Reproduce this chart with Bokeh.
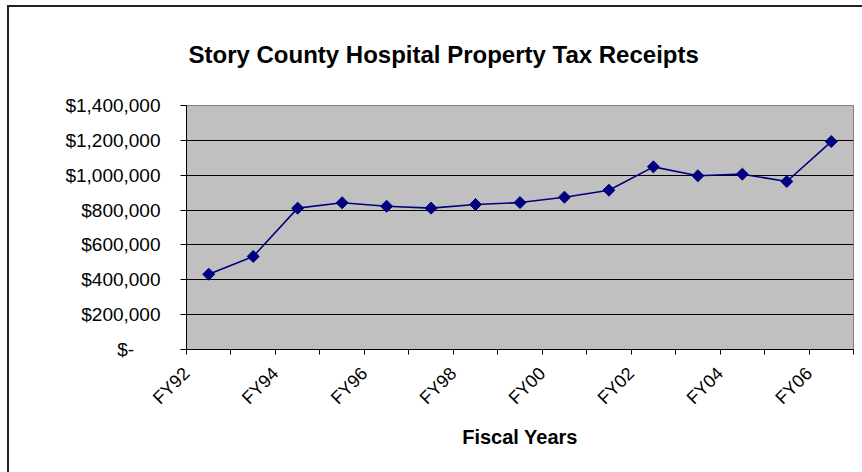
import math
from bokeh.plotting import figure
from bokeh.models import FixedTicker, Range1d
from bokeh.embed import file_html
from bokeh.resources import INLINE

years = ["FY92", "FY93", "FY94", "FY95", "FY96", "FY97", "FY98", "FY99",
         "FY00", "FY01", "FY02", "FY03", "FY04", "FY05", "FY06"]
receipts = [432000, 534000, 811000, 842000, 822000, 811000, 832000, 843000,
            874000, 914000, 1048000, 997000, 1006000, 964000, 1193000]
y_ticks = [0, 200000, 400000, 600000, 800000, 1000000, 1200000, 1400000]
y_tick_labels = ["$-\u00a0\u00a0\u00a0\u00a0\u00a0", "$200,000", "$400,000", "$600,000",
                 "$800,000", "$1,000,000", "$1,200,000", "$1,400,000"]
title_text = "Story County Hospital Property Tax Receipts"
x_title = "Fiscal Years"

FONT = "Liberation Sans"

x_pos = [i + 0.5 for i in range(len(years))]

p = figure(frame_width=667, frame_height=244, output_backend="svg", toolbar_location=None,
           x_range=Range1d(0, len(years)), y_range=Range1d(0, 1400000),
           min_border_left=186, min_border_top=103, min_border_right=9, min_border_bottom=125)
p.styles = {
    "background": "linear-gradient(#222, #222) 7px 5px / 2px calc(100% - 5px) no-repeat, "
                  "linear-gradient(#222, #222) 7px 5px / calc(100% - 7px) 2px no-repeat, #ffffff"
}

p.background_fill_color = "#C0C0C0"
p.border_fill_color = None
p.outline_line_color = "#808080"
p.outline_line_width = 1

p.title.text = title_text
p.title.text_font = FONT
p.title.text_font_size = "24px"
p.title.text_font_style = "bold"
p.title.text_color = "black"
p.title.align = "left"
p.title.offset = 2
p.title.standoff = 76

# x axis
x_ticks = list(range(len(years) + 1))
p.xaxis.ticker = FixedTicker(ticks=x_ticks)
overrides = {}
for t in x_ticks:
    overrides[t] = years[t] if (t < len(years) and t % 2 == 0) else ""
p.xaxis.major_label_overrides = overrides
p.xaxis.major_label_orientation = math.pi / 4
p.xaxis.major_label_text_font = FONT
p.xaxis.major_label_text_font_size = "18px"
p.xaxis.major_label_text_color = "black"
p.xaxis.major_label_standoff = 16
p.xaxis.major_tick_out = 5
p.xaxis.major_tick_in = 0
p.xaxis.minor_tick_line_color = None
p.xaxis.axis_line_color = "black"
p.xaxis.major_tick_line_color = "black"
p.xaxis.axis_label = x_title
p.xaxis.axis_label_text_font = FONT
p.xaxis.axis_label_text_font_size = "20px"
p.xaxis.axis_label_text_font_style = "bold"
p.xaxis.axis_label_text_color = "black"
p.xaxis.axis_label_standoff = 8

# y axis
p.yaxis.ticker = FixedTicker(ticks=y_ticks)
p.yaxis.major_label_overrides = {t: l for t, l in zip(y_ticks, y_tick_labels)}
p.yaxis.major_label_text_font = FONT
p.yaxis.major_label_text_font_size = "19px"
p.yaxis.major_label_text_color = "black"
p.yaxis.major_label_standoff = 20
p.yaxis.major_tick_out = 6
p.yaxis.major_tick_in = 0
p.yaxis.minor_tick_line_color = None
p.yaxis.axis_line_color = "black"
p.yaxis.major_tick_line_color = "black"

p.xgrid.grid_line_color = None
p.ygrid.ticker = FixedTicker(ticks=y_ticks)
p.ygrid.grid_line_color = "black"
p.ygrid.grid_line_width = 1

p.line(x_pos, receipts, line_color="#000080", line_width=1.6)
p.scatter(x_pos, receipts, marker="square", angle=math.pi / 4, size=8.5,
          fill_color="#000080", line_color="#000080")

open("out.html", "w").write(file_html(p, INLINE))
